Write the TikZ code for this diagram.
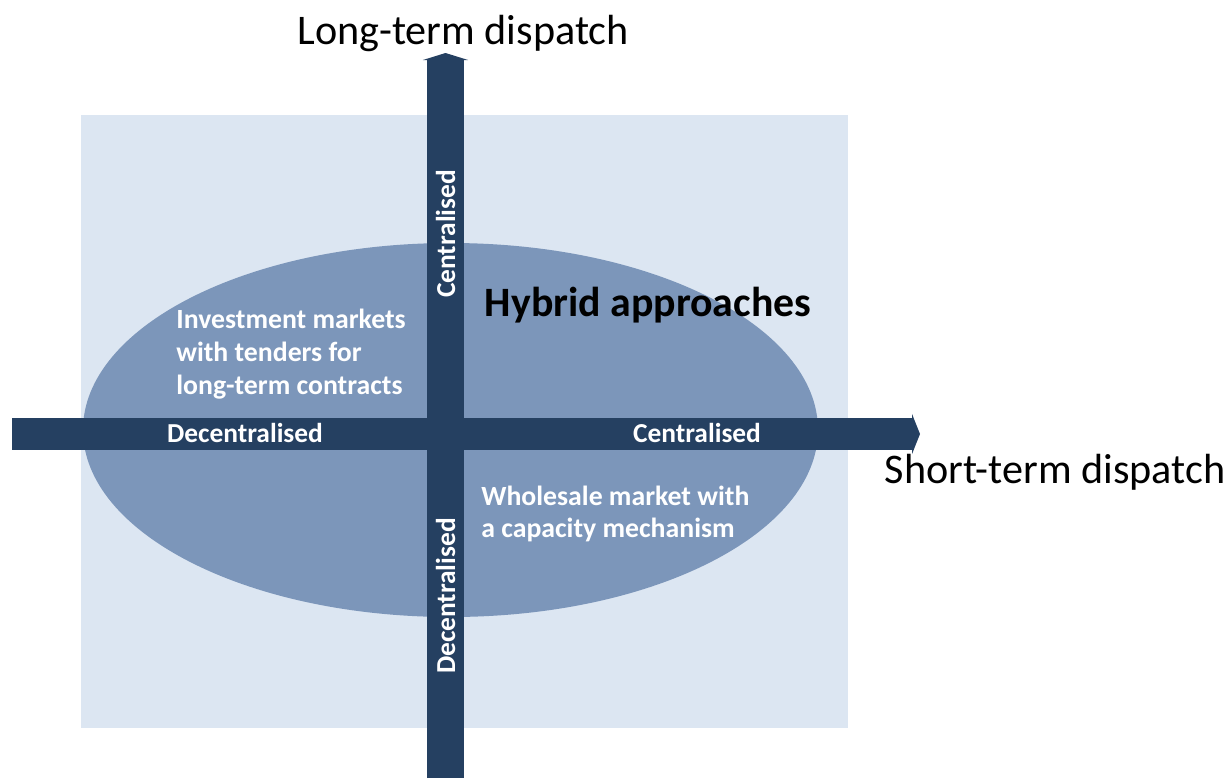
\documentclass[tikz,border=0pt]{standalone}
\usepackage{fontspec}
\setmainfont{Carlito}
\usetikzlibrary{arrows.meta}
\definecolor{paneblue}{HTML}{DCE6F2}
\definecolor{ovalblue}{HTML}{7C96BA}
\definecolor{barblue}{HTML}{254061}
\tikzset{
  axislabel/.style={font=\fontsize{24}{29}\selectfont, text=black},
  barlabel/.style={font=\bfseries\fontsize{15.6}{19}\selectfont, text=white, inner sep=0pt},
  zonelabel/.style={font=\bfseries\fontsize{15.8}{18.7}\selectfont, text=white, align=left, anchor=west, inner sep=0pt},
}
\begin{document}
\begin{tikzpicture}[x=0.02cm, y=-0.02cm]
    \useasboundingbox (0,0) rectangle (1230,778);
    % Draw the background pane and the oval
    \fill[paneblue] (81,115) rectangle (848,728);
    \fill[ovalblue] (450.5,430) ellipse [x radius=367.5, y radius=187];
    % Draw the two axes
    \coordinate (hstart) at (12,434);
    \coordinate (hend) at (920,434);
    \coordinate (vstart) at (445.5,778);
    \coordinate (vend) at (445.5,53);
    \draw[barblue, line width=0.64cm, -{Triangle[width=0.8cm, length=0.16cm]}] (hstart) -- (hend);
    \draw[barblue, line width=0.74cm, -{Triangle[width=0.9cm, length=0.14cm]}] (vstart) -- (vend);
    % Draw labels on the axes
    \node[barlabel] (hdec) at (245,433) {Decentralised};
    \node[barlabel] (hcen) at (697,433) {Centralised};
    \node[barlabel, rotate=90] (vcen) at (445.5,234) {Centralised};
    \node[barlabel, rotate=90] (vdec) at (445.5,596) {Decentralised};
    % Draw the axis titles
    \node[axislabel] (longterm) at (463,33) {Long-term dispatch};
    \node[axislabel] (shortterm) at (1055,472) {Short-term dispatch};
    % Draw the texts inside the oval
    \node[font=\bfseries\fontsize{23.8}{28}\selectfont] (hybrid) at (648,305) {Hybrid approaches};
    \node[zonelabel] (invest) at (176,354) {Investment markets\\with tenders for\\long-term contracts};
    \node[zonelabel] (wholesale) at (481,514) {Wholesale market with\\a capacity mechanism};
\end{tikzpicture}
\end{document}
